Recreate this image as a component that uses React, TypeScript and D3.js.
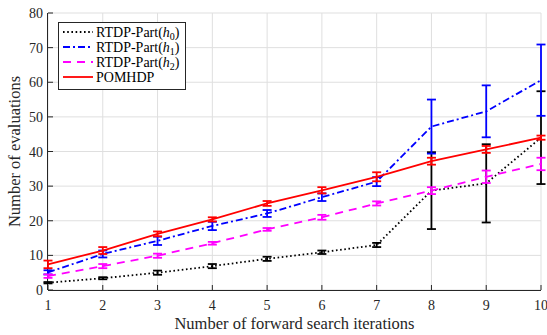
import React, { useEffect, useRef } from 'react';
import * as d3 from 'd3';

const iterations = [1, 2, 3, 4, 5, 6, 7, 8, 9, 10];
const yTicks = [0, 10, 20, 30, 40, 50, 60, 70, 80];

const h0Mean = [2.1, 3.4, 5.0, 6.9, 9.0, 10.9, 13.0, 28.7, 30.8, 44.0];
const h0Err = [0.2, 0.3, 0.6, 0.6, 0.6, 0.5, 0.6, 11.1, 11.3, 13.4];
const h1Mean = [5.1, 10.4, 14.2, 18.5, 22.1, 26.8, 31.3, 47.2, 51.6, 60.6];
const h1Err = [0.6, 1.0, 1.2, 1.2, 1.0, 1.1, 1.3, 7.8, 7.5, 10.3];
const h2Mean = [4.0, 6.9, 9.9, 13.5, 17.5, 21.0, 25.0, 28.7, 32.7, 36.4];
const h2Err = [0.5, 0.6, 0.6, 0.4, 0.4, 0.7, 0.6, 1.0, 1.8, 1.8];
const pomMean = [7.4, 11.4, 16.2, 20.4, 25.0, 28.8, 32.7, 37.2, 40.6, 44.0];
const pomErr = [1.1, 1.0, 0.7, 0.6, 0.7, 0.9, 1.3, 1.0, 1.0, 0.6];

const series = [
  { name: 'h0', mean: h0Mean, err: h0Err, color: '#000000', dash: '1.6,2.6' },
  { name: 'h1', mean: h1Mean, err: h1Err, color: '#0000ff', dash: '7,3,2,3' },
  { name: 'h2', mean: h2Mean, err: h2Err, color: '#ff00ff', dash: '8,6' },
  { name: 'pom', mean: pomMean, err: pomErr, color: '#ff0000', dash: null },
];

const legendLabels = ['RTDP-Part(h0)', 'RTDP-Part(h1)', 'RTDP-Part(h2)', 'POMHDP'];

const W = 547;
const H = 335;
const left = 48, right = 541, top = 13, bottom = 290;
const font = '"Liberation Serif", "DejaVu Serif", serif';

export default function App() {
  const svgRef = useRef<SVGSVGElement>(null);

  useEffect(() => {
    const svg = d3.select(svgRef.current);
    svg.selectAll('*').remove();

    const x = d3.scaleLinear().domain([1, 10]).range([left, right]);
    const y = d3.scaleLinear().domain([0, 80]).range([bottom, top]);

    svg.append('rect').attr('width', W).attr('height', H).attr('fill', '#fff');

    // grid
    const grid = svg.append('g').attr('stroke', '#dfdfdf').attr('stroke-width', 1);
    iterations.forEach(v => {
      grid.append('line').attr('x1', x(v)).attr('x2', x(v)).attr('y1', top).attr('y2', bottom);
    });
    yTicks.forEach(v => {
      grid.append('line').attr('x1', left).attr('x2', right).attr('y1', y(v)).attr('y2', y(v));
    });

    // axes
    const ax = svg.append('g').attr('stroke', '#262626').attr('stroke-width', 1);
    ax.append('line').attr('x1', left).attr('x2', right).attr('y1', bottom + 0.5).attr('y2', bottom + 0.5);
    ax.append('line').attr('x1', left - 0.5).attr('x2', left - 0.5).attr('y1', top).attr('y2', bottom);
    iterations.forEach(v => {
      ax.append('line').attr('x1', x(v)).attr('x2', x(v)).attr('y1', bottom).attr('y2', bottom - 5);
    });
    yTicks.forEach(v => {
      ax.append('line').attr('x1', left).attr('x2', left + 5).attr('y1', y(v)).attr('y2', y(v));
    });

    svg.append('g').selectAll('text').data(iterations).enter().append('text')
      .attr('x', d => x(d)).attr('y', bottom + 20)
      .attr('text-anchor', 'middle')
      .style('font-family', font).style('font-size', '14px').attr('fill', '#262626')
      .text(d => d);

    svg.append('g').selectAll('text').data(yTicks).enter().append('text')
      .attr('x', left - 5).attr('y', d => y(d) + 5)
      .attr('text-anchor', 'end')
      .style('font-family', font).style('font-size', '14px').attr('fill', '#262626')
      .text(d => d);

    svg.append('text')
      .attr('x', (left + right) / 2).attr('y', 329)
      .attr('text-anchor', 'middle')
      .style('font-family', font).style('font-size', '16.5px').attr('fill', '#262626')
      .text('Number of forward search iterations');

    svg.append('text')
      .attr('transform', `translate(20,${(top + bottom) / 2}) rotate(-90)`)
      .attr('text-anchor', 'middle')
      .style('font-family', font).style('font-size', '16.5px').attr('fill', '#262626')
      .text('Number of evaluations');

    const line = d3.line<number>()
      .x((_, i) => x(iterations[i]))
      .y(d => y(d));

    series.forEach(s => {
      const g = svg.append('g');
      g.append('path')
        .attr('d', line(s.mean))
        .attr('fill', 'none')
        .attr('stroke', s.color)
        .attr('stroke-width', 1.8)
        .attr('stroke-dasharray', s.dash);
      s.mean.forEach((m, i) => {
        const cx = x(iterations[i]);
        const y1 = y(m - s.err[i]);
        const y2 = y(m + s.err[i]);
        const eg = g.append('g').attr('stroke', s.color).attr('stroke-width', 1.8);
        eg.append('line').attr('x1', cx).attr('x2', cx).attr('y1', y1).attr('y2', y2);
        eg.append('line').attr('x1', cx - 4.5).attr('x2', cx + 4.5).attr('y1', y1).attr('y2', y1);
        eg.append('line').attr('x1', cx - 4.5).attr('x2', cx + 4.5).attr('y1', y2).attr('y2', y2);
      });
    });

    // legend
    const lg = svg.append('g');
    lg.append('rect')
      .attr('x', 58.5).attr('y', 22.5).attr('width', 127).attr('height', 67)
      .attr('fill', '#fff').attr('stroke', '#262626').attr('stroke-width', 1);
    series.forEach((s, i) => {
      const ly = 32 + i * 15;
      lg.append('line')
        .attr('x1', 63).attr('x2', 93).attr('y1', ly).attr('y2', ly)
        .attr('stroke', s.color).attr('stroke-width', 1.8)
        .attr('stroke-dasharray', s.dash);
      const t = lg.append('text')
        .attr('x', 96).attr('y', ly + 4.5)
        .style('font-family', font).style('font-size', '14px').attr('fill', '#000');
      const label = legendLabels[i];
      if (label.startsWith('RTDP')) {
        t.append('tspan').text('RTDP-Part(');
        t.append('tspan').style('font-style', 'italic').text('h');
        t.append('tspan').attr('dy', 3).style('font-size', '10px').text(label.slice(11, 12));
        t.append('tspan').attr('dy', -3).text(')');
      } else {
        t.text(label);
      }
    });
  }, []);

  return (
    <svg
      ref={svgRef}
      width={W}
      height={H}
      style={{ position: 'absolute', left: 0, top: 0, display: 'block' }}
    />
  );
}
